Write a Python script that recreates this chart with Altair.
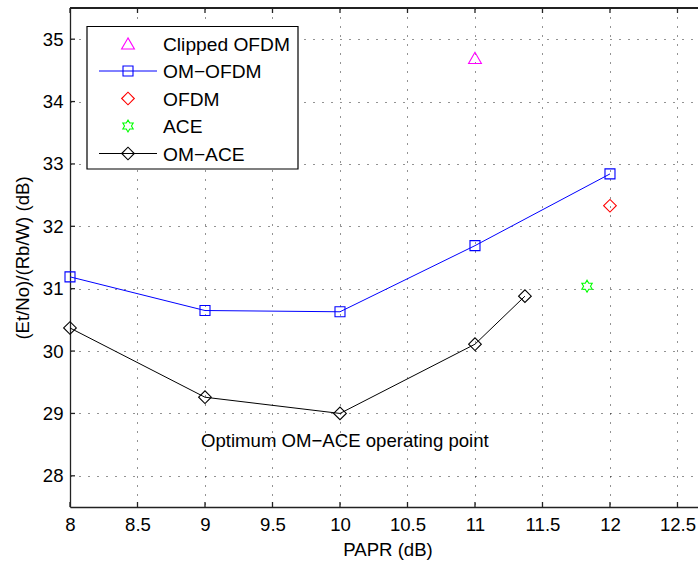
import altair as alt
import pandas as pd

FONT = "Liberation Sans"
W, H = 628, 499

# PAPR (dB) vs required (Et/No)/(Rb/W) (dB)
om_ofdm_papr = [8, 9, 10, 11, 12]
om_ofdm_snr = [31.19, 30.65, 30.63, 31.69, 32.84]
om_ace_papr = [8, 9, 10, 11, 11.37]
om_ace_snr = [30.37, 29.26, 29.00, 30.11, 30.88]
clipped_papr = [11.0]
clipped_snr = [34.70]
ofdm_papr = [12.0]
ofdm_snr = [32.33]
ace_papr = [11.83]
ace_snr = [31.04]

x_ticks = [8, 8.5, 9, 9.5, 10, 10.5, 11, 11.5, 12, 12.5]
y_ticks = [28, 29, 30, 31, 32, 33, 34, 35]

legend_labels = ["Clipped OFDM", "OM\u2212OFDM", "OFDM", "ACE", "OM\u2212ACE"]
legend_colors = ["#ff00ff", "#0000ff", "#ff0000", "#00ff00", "#000000"]

annotation = "Optimum OM\u2212ACE operating point"
annotation_x, annotation_y = 8.97, 28.46

HEXAGRAM = ("M0,-1L0.289,-0.5L0.866,-0.5L0.577,0L0.866,0.5L0.289,0.5L0,1"
            "L-0.289,0.5L-0.866,0.5L-0.577,0L-0.866,-0.5L-0.289,-0.5Z")
legend_shapes = ["triangle-up", "square", "diamond", HEXAGRAM, "diamond"]
legend_sizes = [165, 100, 160, 144, 160]
legend_has_line = [False, True, False, False, True]

xs = alt.Scale(domain=[8, 12.652], nice=False, zero=False)
ys = alt.Scale(domain=[27.5, 35.5], nice=False, zero=False)

x_axis = alt.Axis(
    values=x_ticks, format="~g", title="PAPR (dB)", grid=True, gridDash=[1, 8],
    gridColor="#000", gridOpacity=0.85, gridWidth=1,
    ticks=False, labelPadding=8, labelFont=FONT, labelFontSize=18.6,
    labelColor="#000", labelFlush=False, labelOverlap=False,
    domainColor="#222", domainWidth=1.3,
    titleFont=FONT, titleFontSize=18.6, titleFontWeight="normal", titleColor="#000",
    titleX=317.5, titleY=48, titleBaseline="alphabetic", titleAlign="center",
)
y_axis = alt.Axis(
    values=y_ticks, format="~g", title="(Et/No)/(Rb/W) (dB)", grid=True, gridDash=[1, 8],
    gridColor="#000", gridOpacity=0.85, gridWidth=1,
    ticks=False, labelPadding=7, labelFont=FONT, labelFontSize=18.6,
    labelColor="#000", labelFlush=False, labelOverlap=False,
    domainColor="#222", domainWidth=1.3,
    titleFont=FONT, titleFontSize=18.6, titleFontWeight="normal", titleColor="#000",
    titleX=-41.5, titleY=H / 2, titleBaseline="alphabetic", titleAlign="center",
    titleAngle=270,
)

om_ofdm = pd.DataFrame({"papr": om_ofdm_papr, "snr": om_ofdm_snr})
om_ace = pd.DataFrame({"papr": om_ace_papr, "snr": om_ace_snr})
clipped = pd.DataFrame({"papr": clipped_papr, "snr": clipped_snr})
ofdm = pd.DataFrame({"papr": ofdm_papr, "snr": ofdm_snr})
ace = pd.DataFrame({"papr": ace_papr, "snr": ace_snr})
xt = pd.DataFrame({"papr": x_ticks})
yt = pd.DataFrame({"snr": y_ticks})

X = lambda: alt.X("papr:Q", scale=xs, axis=x_axis)
Y = lambda: alt.Y("snr:Q", scale=ys, axis=y_axis)

# inward ticks on bottom, top and left, plus the top edge
tick_style = dict(color="#222", strokeWidth=1.3)
bottom_ticks = alt.Chart(xt).mark_rule(**tick_style).encode(
    x=X(), y=alt.value(H), y2=alt.value(H - 5))
top_ticks = alt.Chart(xt).mark_rule(**tick_style).encode(
    x=X(), y=alt.value(0), y2=alt.value(5))
left_ticks = alt.Chart(yt).mark_rule(**tick_style).encode(
    y=Y(), x=alt.value(0), x2=alt.value(5))
top_edge = alt.Chart(xt).mark_rule(**tick_style).encode(
    x=alt.value(0), x2=alt.value(W), y=alt.value(0))

def line_with_markers(df, color, shape, size):
    line = alt.Chart(df).mark_line(color=color, strokeWidth=1).encode(x=X(), y=Y())
    pts = alt.Chart(df).mark_point(shape=shape, color=color, size=size,
                                   filled=False, strokeWidth=1.1, opacity=1).encode(x=X(), y=Y())
    return [line, pts]

def markers(df, color, shape, size):
    return [alt.Chart(df).mark_point(shape=shape, color=color, size=size,
                                     filled=False, strokeWidth=1.1, opacity=1).encode(x=X(), y=Y())]

series = (
    markers(clipped, legend_colors[0], legend_shapes[0], legend_sizes[0])
    + line_with_markers(om_ofdm, legend_colors[1], legend_shapes[1], legend_sizes[1])
    + markers(ofdm, legend_colors[2], legend_shapes[2], legend_sizes[2])
    + markers(ace, legend_colors[3], legend_shapes[3], legend_sizes[3])
    + line_with_markers(om_ace, legend_colors[4], legend_shapes[4], legend_sizes[4])
)

note = alt.Chart(pd.DataFrame({"papr": [annotation_x], "snr": [annotation_y],
                               "label": [annotation]})).mark_text(
    font=FONT, fontSize=18.6, align="left", baseline="alphabetic", color="#000"
).encode(x=X(), y=Y(), text="label:N")

# legend box
one = pd.DataFrame({"k": [0]})
legend = [alt.Chart(one).mark_rect(fill="white", stroke="#000", strokeWidth=1.2).encode(
    x=alt.value(17), x2=alt.value(228), y=alt.value(18.5), y2=alt.value(161))]
for i, (lab, col, shp, sz, ln) in enumerate(
        zip(legend_labels, legend_colors, legend_shapes, legend_sizes, legend_has_line)):
    yy = 35.5 + 27.5 * i
    if ln:
        legend.append(alt.Chart(one).mark_rule(color=col, strokeWidth=1).encode(
            x=alt.value(29), x2=alt.value(87), y=alt.value(yy)))
    legend.append(alt.Chart(one).mark_point(shape=shp, color=col, size=sz, filled=False,
                                            strokeWidth=1.1, opacity=1).encode(
        x=alt.value(58), y=alt.value(yy)))
    legend.append(alt.Chart(one).mark_text(font=FONT, fontSize=19.2, align="left",
                                           baseline="middle", color="#000").encode(
        x=alt.value(93), y=alt.value(yy + 1), text=alt.value(lab)))

chart = alt.layer(
    bottom_ticks, top_ticks, left_ticks, top_edge, *series, note, *legend
).properties(
    width=W, height=H,
    autosize=alt.AutoSizeParams(type="none"),
    padding={"left": 70, "top": 8, "right": 0, "bottom": 54},
).configure_view(stroke=None).configure(background="white")

chart.save("out.html", embed_options={"renderer": "svg", "actions": False})
